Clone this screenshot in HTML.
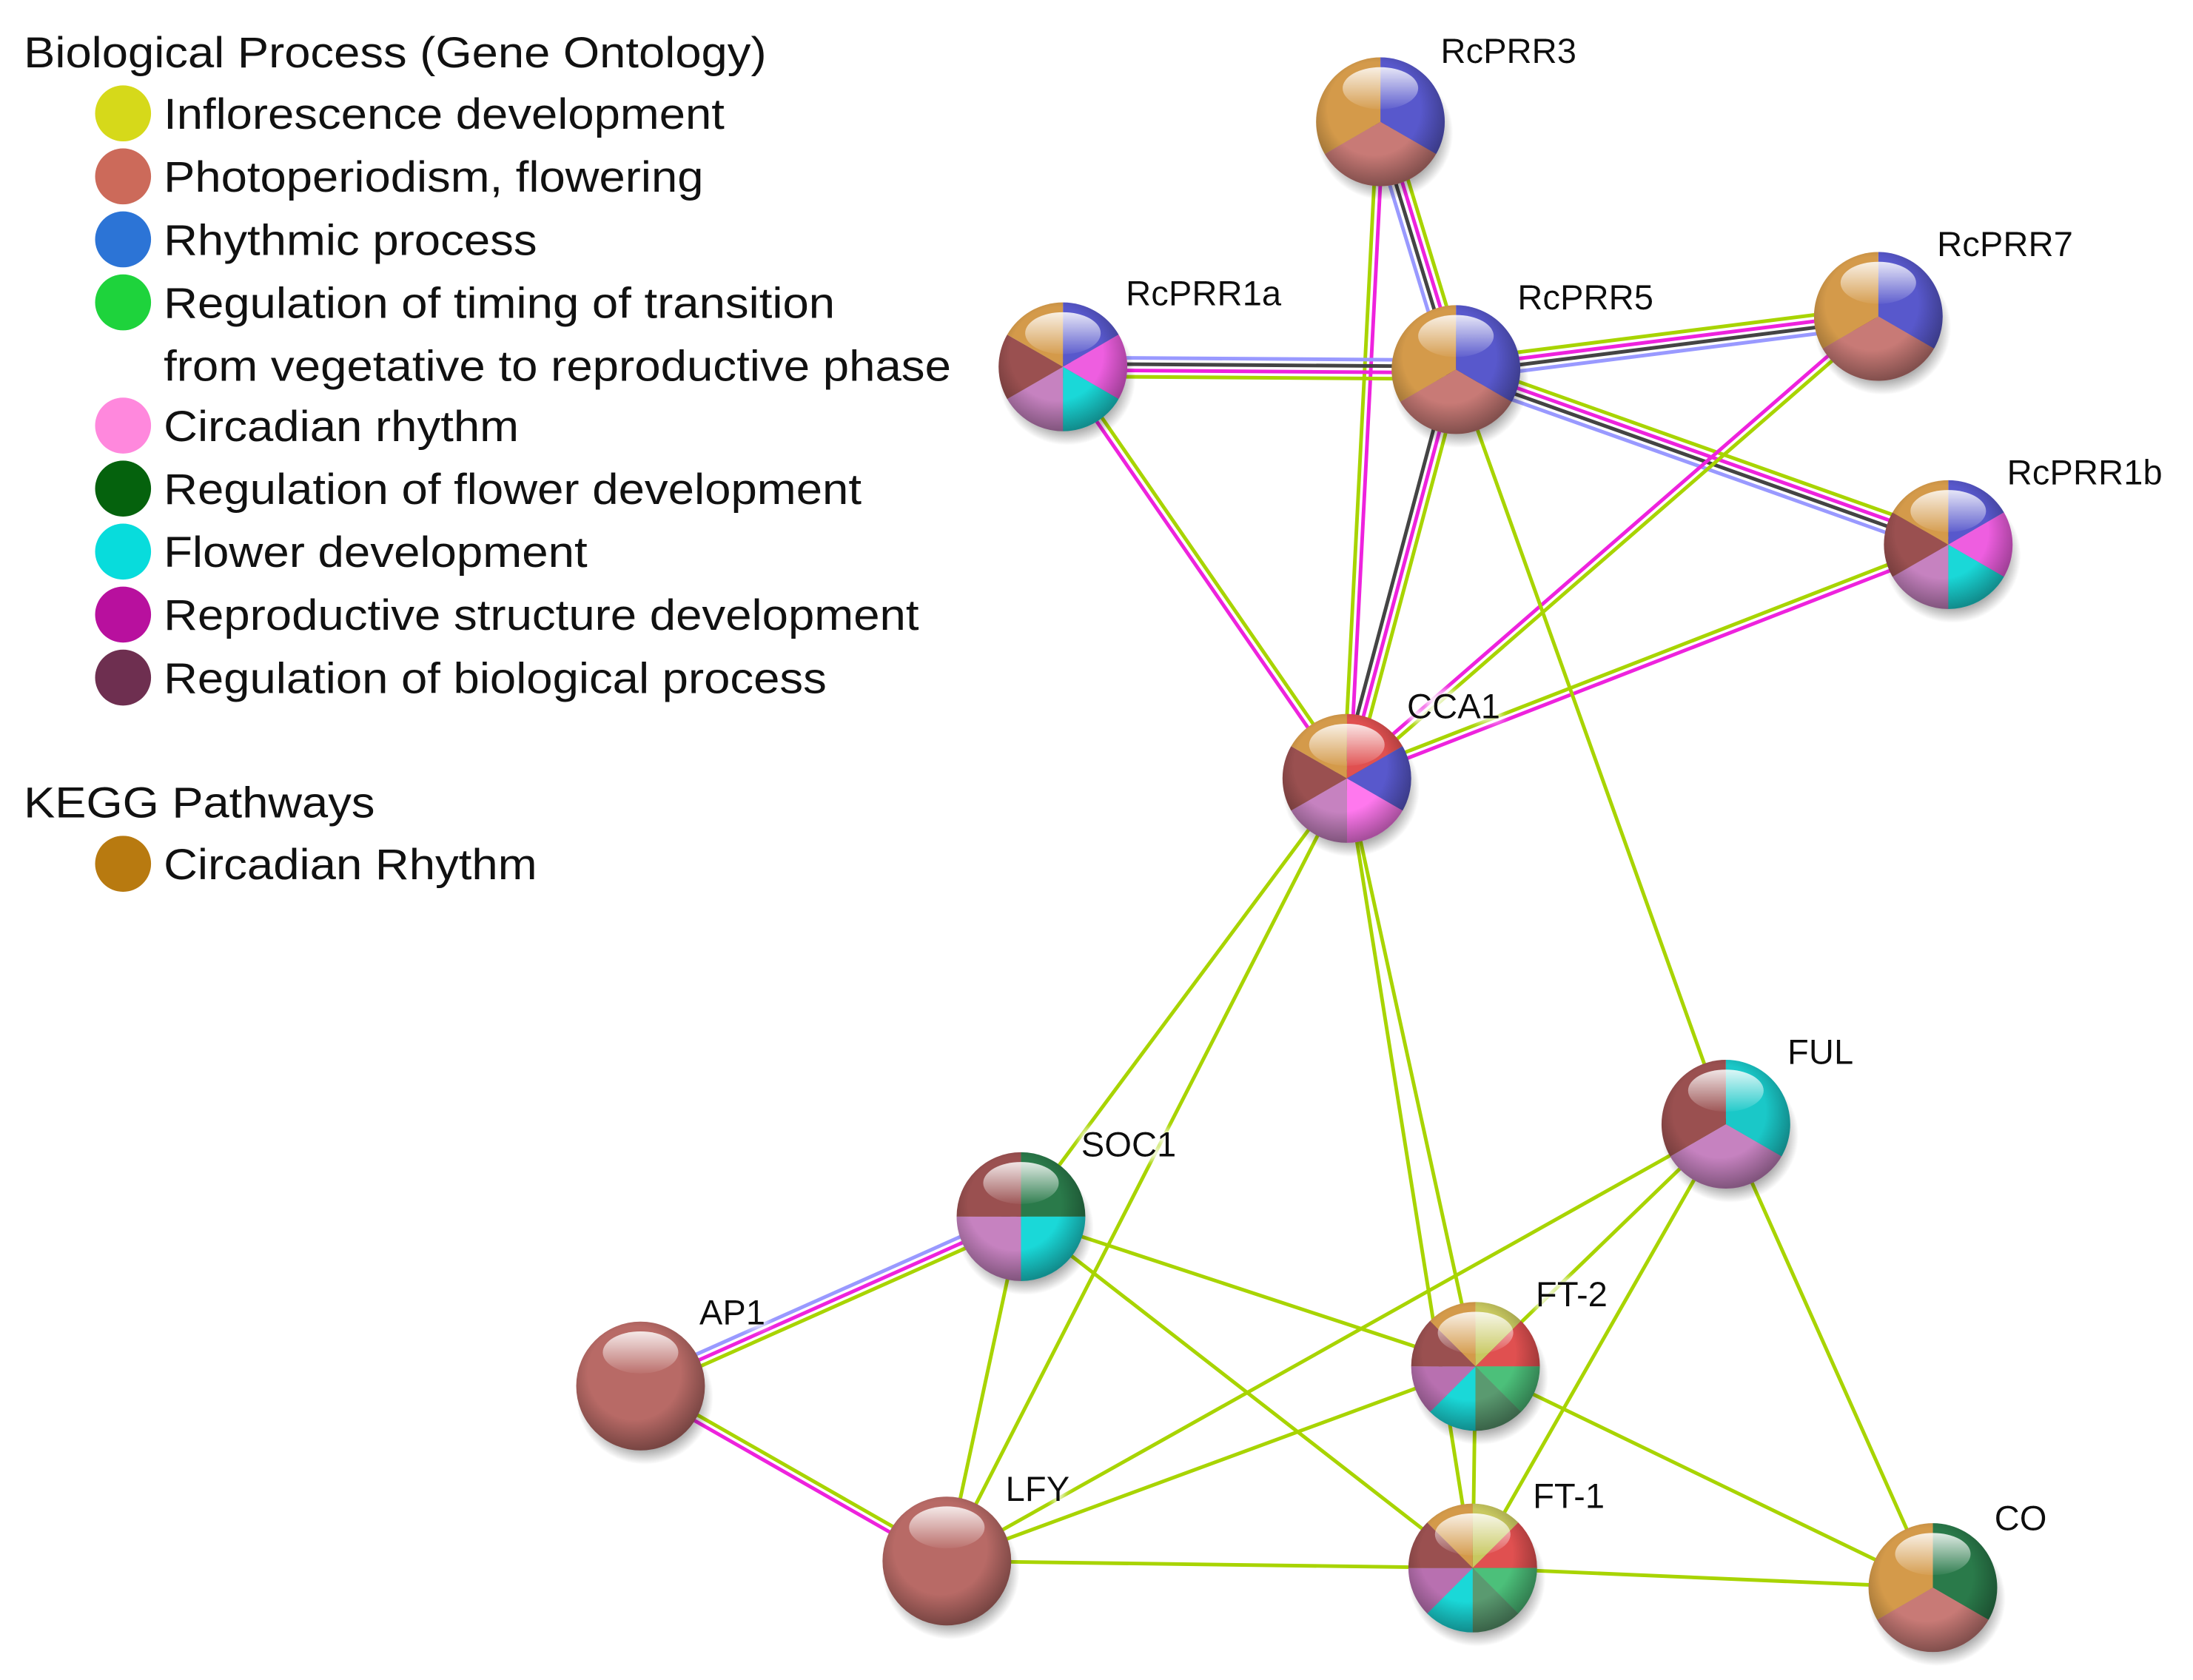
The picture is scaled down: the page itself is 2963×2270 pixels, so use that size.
<!DOCTYPE html>
<html><head><meta charset="utf-8">
<style>
html,body{margin:0;padding:0;background:#fff;}
svg{display:block;}
text{font-family:"Liberation Sans",sans-serif;}
</style></head>
<body>
<svg width="2963" height="2270" viewBox="0 0 1568 1200" preserveAspectRatio="none" xmlns="http://www.w3.org/2000/svg">
<defs>
<radialGradient id="shade" cx="0.45" cy="0.4" r="0.6">
<stop offset="0.6" stop-color="#000" stop-opacity="0"/>
<stop offset="1" stop-color="#000" stop-opacity="0.35"/>
</radialGradient>
<linearGradient id="hl" x1="0" y1="0" x2="0" y2="1">
<stop offset="0" stop-color="#fff" stop-opacity="0.85"/>
<stop offset="1" stop-color="#fff" stop-opacity="0.05"/>
</linearGradient>
<radialGradient id="sh" cx="0.5" cy="0.5" r="0.5">
<stop offset="0.7" stop-color="#000" stop-opacity="0.45"/>
<stop offset="1" stop-color="#000" stop-opacity="0"/>
</radialGradient>
<filter id="glow" x="-20%" y="-40%" width="140%" height="180%"><feMorphology operator="dilate" radius="2" in="SourceAlpha" result="d"/><feGaussianBlur in="d" stdDeviation="3" result="b"/><feFlood flood-color="#fff"/><feComposite in2="b" operator="in" result="w"/><feMerge><feMergeNode in="w"/><feMergeNode in="SourceGraphic"/></feMerge></filter>

<g id="under"><ellipse cx="3" cy="8" rx="49" ry="48" fill="url(#sh)"/></g>
<g id="over"><circle r="46" fill="url(#shade)"/><ellipse cy="-24" rx="27" ry="15" fill="url(#hl)"/></g>

<g id="p3">
<path d="M0 0L0 -46A46 46 0 0 1 39.84 23Z" fill="#5858cc"/>
<path d="M0 0L39.84 23A46 46 0 0 1 -39.84 23Z" fill="#c87a76"/>
<path d="M0 0L-39.84 23A46 46 0 0 1 0 -46Z" fill="#d49a4a"/>
</g>
<g id="pco">
<path d="M0 0L0 -46A46 46 0 0 1 39.84 23Z" fill="#2a7a4a"/>
<path d="M0 0L39.84 23A46 46 0 0 1 -39.84 23Z" fill="#c87a76"/>
<path d="M0 0L-39.84 23A46 46 0 0 1 0 -46Z" fill="#d49a4a"/>
</g>
<g id="pful">
<path d="M0 0L0 -46A46 46 0 0 1 39.84 23Z" fill="#1ac8c8"/>
<path d="M0 0L39.84 23A46 46 0 0 1 -39.84 23Z" fill="#c682c0"/>
<path d="M0 0L-39.84 23A46 46 0 0 1 0 -46Z" fill="#9a5050"/>
</g>
<g id="p6a">
<path d="M0 0L0 -46A46 46 0 0 1 39.84 -23Z" fill="#5858cc"/>
<path d="M0 0L39.84 -23A46 46 0 0 1 39.84 23Z" fill="#ee5ee0"/>
<path d="M0 0L39.84 23A46 46 0 0 1 0 46Z" fill="#1ad8d8"/>
<path d="M0 0L0 46A46 46 0 0 1 -39.84 23Z" fill="#c682c0"/>
<path d="M0 0L-39.84 23A46 46 0 0 1 -39.84 -23Z" fill="#9a5050"/>
<path d="M0 0L-39.84 -23A46 46 0 0 1 0 -46Z" fill="#d49a4a"/>
</g>
<g id="pcca">
<path d="M0 0L0 -46A46 46 0 0 1 39.84 -23Z" fill="#e05050"/>
<path d="M0 0L39.84 -23A46 46 0 0 1 39.84 23Z" fill="#5858cc"/>
<path d="M0 0L39.84 23A46 46 0 0 1 0 46Z" fill="#ff78ee"/>
<path d="M0 0L0 46A46 46 0 0 1 -39.84 23Z" fill="#c682c0"/>
<path d="M0 0L-39.84 23A46 46 0 0 1 -39.84 -23Z" fill="#9a5050"/>
<path d="M0 0L-39.84 -23A46 46 0 0 1 0 -46Z" fill="#d49a4a"/>
</g>
<g id="psoc">
<path d="M0 0L0 -46A46 46 0 0 1 46 0Z" fill="#2a7a4a"/>
<path d="M0 0L46 0A46 46 0 0 1 0 46Z" fill="#1ad8d8"/>
<path d="M0 0L0 46A46 46 0 0 1 -46 0Z" fill="#c682c0"/>
<path d="M0 0L-46 0A46 46 0 0 1 0 -46Z" fill="#9a5050"/>
</g>
<g id="pft">
<path d="M0 0L0 -46A46 46 0 0 1 32.53 -32.53Z" fill="#c8c860"/>
<path d="M0 0L32.53 -32.53A46 46 0 0 1 46 0Z" fill="#e05050"/>
<path d="M0 0L46 0A46 46 0 0 1 32.53 32.53Z" fill="#4cc07a"/>
<path d="M0 0L32.53 32.53A46 46 0 0 1 0 46Z" fill="#5a9a70"/>
<path d="M0 0L0 46A46 46 0 0 1 -32.53 32.53Z" fill="#1ad8d8"/>
<path d="M0 0L-32.53 32.53A46 46 0 0 1 -46 0Z" fill="#b870b0"/>
<path d="M0 0L-46 0A46 46 0 0 1 -32.53 -32.53Z" fill="#9a5050"/>
<path d="M0 0L-32.53 -32.53A46 46 0 0 1 0 -46Z" fill="#d49a4a"/>
</g>
<g id="pp"><circle r="46" fill="#b86a66"/></g>
</defs>

<g stroke-width="2.6" fill="none">
<!-- PRR3-PRR5 -->
<line x1="993.5" y1="85" x2="1047.5" y2="262" stroke="#a8d400"/>
<line x1="989.2" y1="86.3" x2="1043.2" y2="263.3" stroke="#ee22dd"/>
<line x1="984.8" y1="87.7" x2="1038.8" y2="264.7" stroke="#444"/>
<line x1="980.5" y1="89" x2="1034.5" y2="266" stroke="#9999ff"/>
<!-- PRR3-CCA1 -->
<line x1="989.2" y1="87.1" x2="965.2" y2="556.1" stroke="#ee22dd"/>
<line x1="984.8" y1="86.9" x2="960.8" y2="555.9" stroke="#a8d400"/>
<!-- PRR1a-PRR5 -->
<line x1="760" y1="255.3" x2="1041" y2="257.3" stroke="#9999ff"/>
<line x1="760" y1="259.8" x2="1041" y2="261.8" stroke="#444"/>
<line x1="760" y1="264.3" x2="1041" y2="266.3" stroke="#ee22dd"/>
<line x1="760" y1="268.8" x2="1041" y2="270.8" stroke="#a8d400"/>
<!-- PRR1a-CCA1 -->
<line x1="761.9" y1="260.7" x2="964.9" y2="554.7" stroke="#a8d400"/>
<line x1="758.1" y1="263.3" x2="961.1" y2="557.3" stroke="#ee22dd"/>
<!-- PRR5-PRR7 -->
<line x1="1040.2" y1="257.3" x2="1342.2" y2="219.3" stroke="#a8d400"/>
<line x1="1040.7" y1="261.8" x2="1342.7" y2="223.8" stroke="#ee22dd"/>
<line x1="1041.3" y1="266.2" x2="1343.3" y2="228.2" stroke="#444"/>
<line x1="1041.8" y1="270.7" x2="1343.8" y2="232.7" stroke="#9999ff"/>
<!-- PRR5-PRR1b -->
<line x1="1043.3" y1="257.6" x2="1395.3" y2="382.6" stroke="#a8d400"/>
<line x1="1041.8" y1="261.9" x2="1393.8" y2="386.9" stroke="#ee22dd"/>
<line x1="1040.2" y1="266.1" x2="1392.2" y2="391.1" stroke="#444"/>
<line x1="1038.7" y1="270.4" x2="1390.7" y2="395.4" stroke="#9999ff"/>
<!-- PRR5-CCA1 -->
<line x1="1036.7" y1="262.8" x2="958.7" y2="554.8" stroke="#444"/>
<line x1="1041" y1="264" x2="963" y2="556" stroke="#ee22dd"/>
<line x1="1045.4" y1="265.2" x2="967.4" y2="557.2" stroke="#a8d400"/>
<!-- PRR7-CCA1 -->
<line x1="1344.5" y1="227.7" x2="964.5" y2="557.7" stroke="#a8d400"/>
<line x1="1341.5" y1="224.3" x2="961.5" y2="554.3" stroke="#ee22dd"/>
<!-- PRR1b-CCA1 -->
<line x1="1392.2" y1="386.9" x2="962.2" y2="553.9" stroke="#a8d400"/>
<line x1="1393.8" y1="391.1" x2="963.8" y2="558.1" stroke="#ee22dd"/>
<!-- SOC1-AP1 -->
<line x1="728.2" y1="864.9" x2="456.2" y2="985.9" stroke="#9999ff"/>
<line x1="730" y1="869" x2="458" y2="990" stroke="#ee22dd"/>
<line x1="731.8" y1="873.1" x2="459.8" y2="994.1" stroke="#a8d400"/>
<!-- AP1-LFY -->
<line x1="459.1" y1="988.1" x2="678.1" y2="1113.1" stroke="#a8d400"/>
<line x1="456.9" y1="992" x2="675.9" y2="1117" stroke="#ee22dd"/>
<!-- single green -->
<g stroke="#a8d400">
<line x1="1041" y1="264" x2="1234" y2="803"/>
<line x1="963" y1="556" x2="730" y2="869"/>
<line x1="963" y1="556" x2="677" y2="1115"/>
<line x1="963" y1="556" x2="1055" y2="976"/>
<line x1="963" y1="556" x2="1053" y2="1120"/>
<line x1="730" y1="869" x2="1055" y2="976"/>
<line x1="730" y1="869" x2="1053" y2="1120"/>
<line x1="730" y1="869" x2="677" y2="1115"/>
<line x1="677" y1="1115" x2="1234" y2="803"/>
<line x1="677" y1="1115" x2="1055" y2="976"/>
<line x1="677" y1="1115" x2="1053" y2="1120"/>
<line x1="1234" y1="803" x2="1053" y2="1120"/>
<line x1="1234" y1="803" x2="1055" y2="976"/>
<line x1="1234" y1="803" x2="1382" y2="1134"/>
<line x1="1055" y1="976" x2="1382" y2="1134"/>
<line x1="1053" y1="1120" x2="1382" y2="1134"/>
<line x1="1055" y1="976" x2="1053" y2="1120"/>
</g>
</g>

<!-- nodes -->
<g transform="translate(987,87)"><use href="#under"/><use href="#p3"/><use href="#over"/></g>
<g transform="translate(1343,226)"><use href="#under"/><use href="#p3"/><use href="#over"/></g>
<g transform="translate(760,262)"><use href="#under"/><use href="#p6a"/><use href="#over"/></g>
<g transform="translate(1041,264)"><use href="#under"/><use href="#p3"/><use href="#over"/></g>
<g transform="translate(1393,389)"><use href="#under"/><use href="#p6a"/><use href="#over"/></g>
<g transform="translate(963,556)"><use href="#under"/><use href="#pcca"/><use href="#over"/></g>
<g transform="translate(1234,803)"><use href="#under"/><use href="#pful"/><use href="#over"/></g>
<g transform="translate(730,869)"><use href="#under"/><use href="#psoc"/><use href="#over"/></g>
<g transform="translate(458,990)"><use href="#under"/><use href="#pp"/><use href="#over"/></g>
<g transform="translate(1055,976)"><use href="#under"/><use href="#pft"/><use href="#over"/></g>
<g transform="translate(677,1115)"><use href="#under"/><use href="#pp"/><use href="#over"/></g>
<g transform="translate(1053,1120)"><use href="#under"/><use href="#pft"/><use href="#over"/></g>
<g transform="translate(1382,1134)"><use href="#under"/><use href="#pco"/><use href="#over"/></g>

<!-- node labels -->
<g font-size="25" fill="#111" filter="url(#glow)">
<text x="1030" y="45">RcPRR3</text>
<text x="1385" y="183">RcPRR7</text>
<text x="805" y="218">RcPRR1a</text>
<text x="1085" y="221">RcPRR5</text>
<text x="1435" y="346">RcPRR1b</text>
<text x="1006" y="513">CCA1</text>
<text x="1278" y="760">FUL</text>
<text x="773" y="826">SOC1</text>
<text x="500" y="946">AP1</text>
<text x="1098" y="933">FT-2</text>
<text x="719" y="1072">LFY</text>
<text x="1096" y="1077">FT-1</text>
<text x="1426" y="1093">CO</text>
</g>

<!-- legend -->
<g font-size="31" fill="#111">
<text x="17" y="48" textLength="531" lengthAdjust="spacingAndGlyphs">Biological Process (Gene Ontology)</text>
<circle cx="88" cy="81" r="20" fill="#d6d91a"/><text x="117" y="92" textLength="401" lengthAdjust="spacingAndGlyphs">Inflorescence development</text>
<circle cx="88" cy="126" r="20" fill="#cc6a5a"/><text x="117" y="137" textLength="386" lengthAdjust="spacingAndGlyphs">Photoperiodism, flowering</text>
<circle cx="88" cy="171" r="20" fill="#2c74d6"/><text x="117" y="182" textLength="267" lengthAdjust="spacingAndGlyphs">Rhythmic process</text>
<circle cx="88" cy="216" r="20" fill="#1ed33c"/><text x="117" y="227" textLength="480" lengthAdjust="spacingAndGlyphs">Regulation of timing of transition</text>
<text x="117" y="272" textLength="563" lengthAdjust="spacingAndGlyphs">from vegetative to reproductive phase</text>
<circle cx="88" cy="304" r="20" fill="#ff88dd"/><text x="117" y="315" textLength="254" lengthAdjust="spacingAndGlyphs">Circadian rhythm</text>
<circle cx="88" cy="349" r="20" fill="#05620d"/><text x="117" y="360" textLength="499" lengthAdjust="spacingAndGlyphs">Regulation of flower development</text>
<circle cx="88" cy="394" r="20" fill="#08dcdc"/><text x="117" y="405" textLength="303" lengthAdjust="spacingAndGlyphs">Flower development</text>
<circle cx="88" cy="439" r="20" fill="#b8109e"/><text x="117" y="450" textLength="540" lengthAdjust="spacingAndGlyphs">Reproductive structure development</text>
<circle cx="88" cy="484" r="20" fill="#6e2f50"/><text x="117" y="495" textLength="474" lengthAdjust="spacingAndGlyphs">Regulation of biological process</text>
<text x="17" y="584" textLength="251" lengthAdjust="spacingAndGlyphs">KEGG Pathways</text>
<circle cx="88" cy="617" r="20" fill="#b87a10"/><text x="117" y="628" textLength="267" lengthAdjust="spacingAndGlyphs">Circadian Rhythm</text>
</g>
</svg>
</body></html>
